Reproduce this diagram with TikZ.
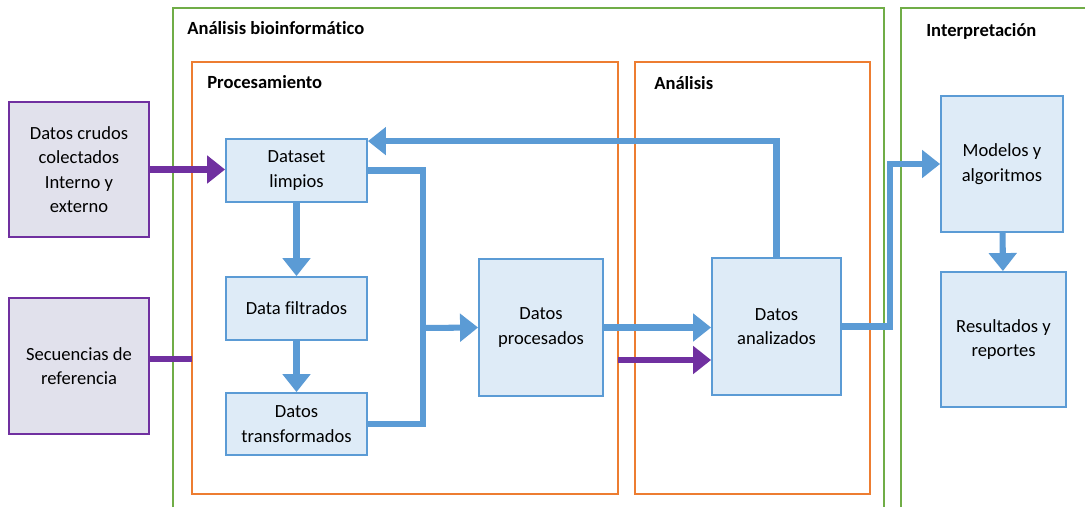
\documentclass[tikz,border=0pt]{standalone}
\usepackage{fontspec}
\setmainfont{Carlito}[Ligatures=NoCommon]
\usetikzlibrary{arrows.meta}

\definecolor{azul}{HTML}{5B9BD5}
\definecolor{azulclaro}{HTML}{DEEBF7}
\definecolor{morado}{HTML}{7030A0}
\definecolor{grisclaro}{HTML}{E1E1EC}
\definecolor{verde}{HTML}{70AD47}
\definecolor{naranja}{HTML}{ED7D31}

\begin{document}
\begin{tikzpicture}[
    x=0.025cm, y=-0.025cm,
    every node/.style={font=\fontsize{13.2}{17.4}\selectfont},
    caja/.style={draw=azul, fill=azulclaro, line width=1.3pt, align=center, inner sep=0pt},
    fuente/.style={draw=morado, fill=grisclaro, line width=1.3pt, align=center, inner sep=0pt},
    titulo/.style={anchor=west, inner sep=0pt, font=\fontsize{13.2}{15}\selectfont\bfseries},
    marco/.style={line width=1pt},
    linea/.style={azul, line width=4.3pt},
    flecha/.style={linea, -{Triangle[length=0.45cm,width=0.68cm]}},
    lineamorada/.style={morado, line width=4.3pt},
    flechamorada/.style={lineamorada, -{Triangle[length=0.45cm,width=0.68cm]}}
]
    \path[use as bounding box, fill=white] (0,0) rectangle (1085,507);

    \draw[marco, verde] (173,507) |- (884,8) -- (884,507);
    \draw[marco, verde] (901,507) |- (1085,8);
    \draw[marco, naranja] (192,62) rectangle (618,494);
    \draw[marco, naranja] (635,62) rectangle (870,494);

    \node[titulo] (tbio) at (187,28) {Análisis bioinformático};
    \node[titulo] (tproc) at (207,82) {Procesamiento};
    \node[titulo] (tana) at (654,83) {Análisis};
    \node[titulo] (tint) at (926,31) {Interpretación};

    \node[fuente, minimum width=3.5cm, minimum height=3.375cm] (crudos) at (79,169.5)
        {Datos crudos\\colectados\\Interno y\\externo};
    \node[fuente, minimum width=3.5cm, minimum height=3.4cm] (secuencias) at (79,366)
        {Secuencias de\\referencia};

    \node[caja, minimum width=3.525cm, minimum height=1.575cm] (dataset) at (296.5,170.5) {Dataset\\limpios};
    \node[caja, minimum width=3.525cm, minimum height=1.575cm] (filtrados) at (296.5,308.5) {Data filtrados};
    \node[caja, minimum width=3.525cm, minimum height=1.55cm] (transformados) at (296.5,424) {Datos\\transformados};
    \node[caja, minimum width=3.1cm, minimum height=3.425cm] (procesados) at (541,327.5) {Datos\\procesados};
    \node[caja, minimum width=3.225cm, minimum height=3.425cm] (analizados) at (776.5,326.5) {Datos\\analizados};
    \node[caja, minimum width=3.05cm, minimum height=3.4cm] (modelos) at (1002,164) {Modelos y\\algoritmos};
    \node[caja, minimum width=3.125cm, minimum height=3.375cm] (resultados) at (1003.5,339.5) {Resultados y\\reportes};

    \coordinate (bus) at (423,328);
    \coordinate (secfin) at (192,359);
    \coordinate (refin) at (618,360);
    \coordinate (codo) at (890,0);

    \draw[flechamorada] (crudos.east) -- (crudos.east -| dataset.west);
    \draw[lineamorada] (secuencias.east |- secfin) -- (secfin);
    \draw[flechamorada] (refin) -- (refin -| analizados.west);

    \draw[flecha] (dataset) -- (filtrados);
    \draw[flecha] (filtrados) -- (transformados);
    \draw[linea] (dataset.east) -| (bus |- transformados.east) -- (transformados.east);
    \draw[flecha] (bus) -- (procesados.west);
    \draw[flecha] (procesados.east) -- (procesados.east -| analizados.west);
    \draw[flecha] (analizados.north) |- ([yshift=-0.075cm]dataset.north east);
    \draw[flecha] (analizados.east) -| (codo |- modelos.west) -- (modelos.west);
    \draw[flecha] (modelos) -- (resultados);
\end{tikzpicture}
\end{document}
